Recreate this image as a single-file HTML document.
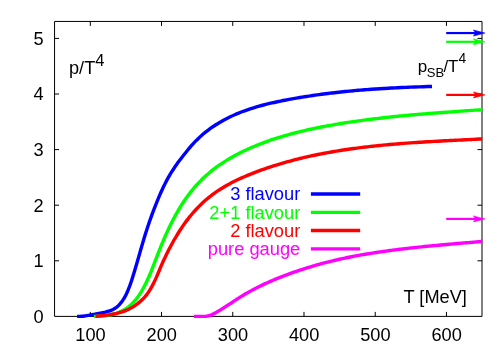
<!DOCTYPE html><html><head><meta charset="utf-8"><style>html,body{margin:0;padding:0;background:#fff}svg{display:block;will-change:transform;opacity:0.999}text{font-family:"Liberation Sans",sans-serif;font-size:18.2px}</style></head><body>
<svg width="504" height="353" viewBox="0 0 504 353">
<rect width="504" height="353" fill="#fff"/>
<g stroke="#000" stroke-width="1" fill="none" stroke-linejoin="round">
<rect x="54.55" y="21.45" width="427.45" height="294.95"/>
<path d="M90.30 316.40V311.90 M90.30 21.45V25.95"/>
<path d="M161.53 316.40V311.90 M161.53 21.45V25.95"/>
<path d="M232.76 316.40V311.90 M232.76 21.45V25.95"/>
<path d="M303.99 316.40V311.90 M303.99 21.45V25.95"/>
<path d="M375.22 316.40V311.90 M375.22 21.45V25.95"/>
<path d="M446.45 316.40V311.90 M446.45 21.45V25.95"/>
<path d="M54.55 260.80H59.05 M482.00 260.80H477.50"/>
<path d="M54.55 205.20H59.05 M482.00 205.20H477.50"/>
<path d="M54.55 149.60H59.05 M482.00 149.60H477.50"/>
<path d="M54.55 94.00H59.05 M482.00 94.00H477.50"/>
<path d="M54.55 38.40H59.05 M482.00 38.40H477.50"/>
</g>
<defs><clipPath id="cp"><rect x="0" y="0" width="482.3" height="353"/></clipPath></defs><g clip-path="url(#cp)">
<path d="M77.10 316.40C77.50 316.39 78.68 316.39 79.50 316.36C80.32 316.33 81.17 316.29 82.00 316.22C82.83 316.15 83.67 316.05 84.50 315.95C85.33 315.85 86.12 315.73 87.00 315.60C87.88 315.47 88.88 315.31 89.80 315.15C90.72 314.99 91.87 314.77 92.50 314.65C93.13 314.53 93.16 314.54 93.59 314.45C94.03 314.37 94.49 314.27 95.14 314.15C95.79 314.02 96.75 313.85 97.48 313.72C98.20 313.59 98.81 313.49 99.49 313.37C100.16 313.26 100.77 313.17 101.53 313.02C102.28 312.86 103.33 312.63 104.02 312.46C104.71 312.30 104.91 312.25 105.66 312.04C106.41 311.83 107.85 311.40 108.52 311.20C109.18 311.00 108.99 311.10 109.67 310.85C110.34 310.60 111.97 309.95 112.57 309.70C113.16 309.46 112.66 309.72 113.23 309.38C113.80 309.03 115.49 307.98 116.00 307.66C116.52 307.34 115.77 307.90 116.30 307.44C116.82 306.98 118.68 305.33 119.16 304.90C119.63 304.48 118.75 305.38 119.17 304.89C119.58 304.40 121.19 302.51 121.65 301.96C122.10 301.42 121.52 302.19 121.89 301.63C122.26 301.08 123.48 299.25 123.88 298.63C124.28 298.01 123.97 298.52 124.31 297.91C124.64 297.30 125.52 295.68 125.87 295.00C126.23 294.33 126.14 294.49 126.43 293.86C126.72 293.24 127.31 291.94 127.62 291.25C127.92 290.56 128.01 290.35 128.26 289.72C128.52 289.08 128.89 288.15 129.16 287.45C129.43 286.74 129.65 286.14 129.88 285.49C130.11 284.85 130.31 284.29 130.56 283.57C130.81 282.85 131.14 281.84 131.36 281.19C131.58 280.54 131.63 280.38 131.86 279.67C132.09 278.97 132.52 277.61 132.73 276.97C132.93 276.34 132.86 276.55 133.08 275.85C133.30 275.15 133.84 273.41 134.03 272.77C134.23 272.14 134.05 272.73 134.26 272.04C134.47 271.34 135.10 269.22 135.29 268.58C135.49 267.95 135.20 268.92 135.40 268.23C135.60 267.54 136.33 265.07 136.51 264.44C136.70 263.80 136.34 265.04 136.52 264.41C136.70 263.78 137.41 261.34 137.61 260.65C137.81 259.95 137.54 260.87 137.73 260.24C137.91 259.61 138.49 257.56 138.69 256.86C138.89 256.17 138.68 256.90 138.92 256.07C139.15 255.25 139.71 253.30 140.10 251.91C140.50 250.52 140.90 249.14 141.30 247.75C141.70 246.37 142.10 244.99 142.50 243.60C142.91 242.22 143.32 240.84 143.74 239.45C144.15 238.07 144.57 236.69 145.00 235.31C145.43 233.93 145.87 232.55 146.31 231.17C146.75 229.79 147.20 228.41 147.66 227.03C148.12 225.66 148.58 224.28 149.05 222.91C149.52 221.54 150.00 220.16 150.49 218.80C150.97 217.43 151.46 216.06 151.96 214.70C152.46 213.34 152.96 211.99 153.47 210.64C153.98 209.29 154.50 207.94 155.03 206.60C155.55 205.25 156.08 203.92 156.62 202.58C157.15 201.25 157.70 199.92 158.25 198.60C158.80 197.27 159.36 195.96 159.93 194.64C160.50 193.33 161.08 192.02 161.68 190.72C162.27 189.42 162.88 188.11 163.50 186.82C164.12 185.53 164.76 184.24 165.42 182.96C166.07 181.69 166.74 180.41 167.43 179.15C168.12 177.89 168.82 176.64 169.55 175.39C170.28 174.14 171.02 172.91 171.80 171.68C172.57 170.44 173.40 169.17 174.21 167.97C175.01 166.77 175.80 165.64 176.62 164.49C177.44 163.34 178.27 162.19 179.11 161.07C179.95 159.94 180.81 158.82 181.66 157.73C182.50 156.63 183.32 155.59 184.19 154.49C185.05 153.40 185.94 152.28 186.83 151.17C187.73 150.07 188.64 148.95 189.56 147.85C190.49 146.76 191.42 145.67 192.37 144.60C193.33 143.54 194.30 142.48 195.30 141.44C196.30 140.41 197.33 139.38 198.38 138.39C199.42 137.40 200.48 136.42 201.57 135.47C202.65 134.52 203.74 133.60 204.86 132.69C205.98 131.78 207.12 130.89 208.28 130.02C209.45 129.15 210.63 128.30 211.83 127.46C213.03 126.63 214.24 125.82 215.48 125.02C216.71 124.22 217.99 123.43 219.25 122.68C220.52 121.92 221.80 121.19 223.07 120.48C224.35 119.78 225.64 119.10 226.93 118.44C228.21 117.78 229.51 117.14 230.81 116.53C232.11 115.91 233.41 115.32 234.73 114.75C236.04 114.17 237.37 113.61 238.70 113.07C240.03 112.53 241.37 112.01 242.71 111.50C244.06 110.99 245.42 110.50 246.78 110.03C248.15 109.55 249.52 109.09 250.90 108.64C252.29 108.19 253.68 107.76 255.07 107.34C256.47 106.92 257.88 106.51 259.28 106.12C260.68 105.73 262.08 105.35 263.48 104.99C264.89 104.62 266.30 104.26 267.71 103.92C269.12 103.57 270.54 103.24 271.96 102.91C273.38 102.59 274.81 102.27 276.24 101.97C277.66 101.66 279.09 101.36 280.53 101.07C281.96 100.78 283.39 100.49 284.83 100.22C286.26 99.94 287.70 99.67 289.13 99.40C290.57 99.14 292.01 98.88 293.44 98.62C294.88 98.37 296.32 98.12 297.75 97.87C299.19 97.63 300.62 97.39 302.06 97.15C303.49 96.92 304.92 96.69 306.36 96.47C307.79 96.24 309.22 96.03 310.66 95.81C312.09 95.60 313.53 95.39 314.96 95.18C316.40 94.98 317.83 94.78 319.27 94.58C320.71 94.39 322.14 94.20 323.58 94.01C325.02 93.82 326.46 93.64 327.90 93.46C329.34 93.28 330.77 93.11 332.21 92.94C333.65 92.77 335.09 92.60 336.53 92.44C337.97 92.28 339.41 92.12 340.86 91.97C342.30 91.82 343.74 91.67 345.18 91.52C346.62 91.38 348.06 91.23 349.51 91.10C350.95 90.96 352.39 90.82 353.84 90.69C355.28 90.56 356.72 90.44 358.17 90.31C359.61 90.19 361.06 90.07 362.50 89.95C363.95 89.83 365.39 89.72 366.84 89.61C368.28 89.50 369.73 89.39 371.17 89.29C372.62 89.18 374.07 89.08 375.51 88.99C376.96 88.89 378.41 88.79 379.85 88.70C381.30 88.61 382.75 88.52 384.20 88.43C385.64 88.35 387.09 88.27 388.54 88.18C389.99 88.10 391.43 88.03 392.88 87.95C394.33 87.88 395.78 87.80 397.23 87.73C398.68 87.66 400.13 87.59 401.58 87.53C403.02 87.46 404.47 87.40 405.92 87.34C407.37 87.28 408.82 87.22 410.27 87.16C411.72 87.10 413.17 87.05 414.62 87.00C416.07 86.94 417.52 86.89 418.97 86.85C420.42 86.80 421.87 86.75 423.31 86.70C424.76 86.66 426.21 86.62 427.66 86.57C429.10 86.53 431.27 86.47 432.00 86.45" fill="none" stroke="#0000ff" stroke-width="3.4" stroke-linecap="butt" stroke-linejoin="round"/>
<path d="M93.90 316.35C94.61 316.33 96.84 316.28 98.17 316.22C99.49 316.16 100.60 316.10 101.83 316.00C103.05 315.90 104.29 315.77 105.52 315.61C106.75 315.45 107.98 315.26 109.19 315.03C110.41 314.80 111.61 314.55 112.79 314.25C113.97 313.95 115.14 313.62 116.28 313.25C117.42 312.88 118.54 312.48 119.62 312.03C120.71 311.58 121.77 311.09 122.80 310.56C123.84 310.02 124.84 309.44 125.81 308.81C126.78 308.19 127.72 307.51 128.63 306.79C129.54 306.07 130.42 305.31 131.27 304.51C132.12 303.71 132.95 302.86 133.74 301.99C134.54 301.12 135.31 300.21 136.05 299.28C136.80 298.34 137.52 297.38 138.22 296.39C138.91 295.41 139.59 294.39 140.24 293.37C140.90 292.34 141.53 291.29 142.14 290.24C142.75 289.19 143.35 288.12 143.92 287.05C144.49 285.98 145.04 284.90 145.58 283.83C146.12 282.75 146.64 281.67 147.15 280.58C147.66 279.49 148.15 278.40 148.63 277.31C149.12 276.22 149.58 275.12 150.05 274.02C150.51 272.92 150.96 271.81 151.41 270.71C151.86 269.60 152.30 268.49 152.73 267.38C153.17 266.26 153.60 265.15 154.03 264.03C154.46 262.92 154.88 261.80 155.31 260.68C155.74 259.56 156.17 258.44 156.60 257.32C157.03 256.20 157.47 255.08 157.91 253.96C158.34 252.84 158.78 251.72 159.23 250.60C159.67 249.48 160.12 248.36 160.57 247.24C161.03 246.13 161.48 245.01 161.95 243.89C162.41 242.78 162.87 241.66 163.35 240.55C163.82 239.44 164.30 238.33 164.78 237.22C165.26 236.12 165.75 235.01 166.25 233.91C166.74 232.81 167.24 231.71 167.75 230.61C168.26 229.52 168.77 228.42 169.30 227.34C169.82 226.25 170.34 225.18 170.87 224.11C171.40 223.04 171.94 221.98 172.48 220.92C173.03 219.86 173.58 218.81 174.14 217.76C174.70 216.71 175.27 215.67 175.85 214.63C176.42 213.60 177.01 212.57 177.60 211.54C178.19 210.52 178.79 209.50 179.41 208.49C180.02 207.47 180.65 206.46 181.28 205.45C181.92 204.44 182.56 203.44 183.22 202.45C183.87 201.45 184.54 200.47 185.22 199.49C185.89 198.51 186.58 197.54 187.28 196.58C187.97 195.62 188.68 194.67 189.40 193.73C190.12 192.78 190.85 191.85 191.59 190.93C192.33 190.00 193.08 189.09 193.85 188.18C194.61 187.28 195.39 186.39 196.18 185.50C196.96 184.62 197.76 183.75 198.58 182.89C199.39 182.02 200.23 181.17 201.07 180.32C201.92 179.47 202.79 178.63 203.68 177.80C204.56 176.97 205.45 176.15 206.36 175.34C207.26 174.54 208.18 173.74 209.12 172.96C210.05 172.18 210.99 171.40 211.95 170.64C212.90 169.88 213.87 169.13 214.85 168.40C215.83 167.66 216.82 166.94 217.81 166.22C218.81 165.51 219.82 164.81 220.83 164.12C221.85 163.43 222.88 162.75 223.91 162.09C224.93 161.43 225.96 160.79 226.99 160.15C228.02 159.52 229.05 158.91 230.10 158.30C231.14 157.69 232.18 157.10 233.23 156.51C234.28 155.93 235.34 155.36 236.40 154.79C237.46 154.23 238.53 153.68 239.60 153.13C240.67 152.59 241.74 152.06 242.82 151.54C243.90 151.01 244.98 150.50 246.07 149.99C247.16 149.48 248.26 148.98 249.36 148.49C250.45 148.00 251.56 147.52 252.66 147.05C253.76 146.58 254.87 146.12 255.98 145.66C257.08 145.21 258.20 144.76 259.31 144.32C260.42 143.89 261.52 143.46 262.63 143.04C263.74 142.62 264.84 142.21 265.95 141.81C267.07 141.41 268.18 141.01 269.30 140.62C270.41 140.23 271.53 139.85 272.65 139.48C273.78 139.10 274.90 138.74 276.03 138.37C277.15 138.01 278.28 137.66 279.41 137.31C280.55 136.96 281.69 136.62 282.83 136.28C283.98 135.94 285.12 135.61 286.27 135.28C287.42 134.95 288.57 134.63 289.72 134.32C290.88 134.00 292.03 133.69 293.19 133.39C294.35 133.09 295.51 132.79 296.67 132.50C297.83 132.20 298.99 131.91 300.16 131.63C301.32 131.35 302.48 131.07 303.64 130.80C304.80 130.53 305.97 130.26 307.14 130.00C308.30 129.73 309.47 129.48 310.64 129.22C311.81 128.97 312.99 128.71 314.16 128.47C315.33 128.22 316.51 127.98 317.68 127.74C318.86 127.50 320.04 127.27 321.23 127.04C322.41 126.80 323.60 126.57 324.79 126.35C325.98 126.13 327.17 125.91 328.36 125.69C329.55 125.47 330.74 125.26 331.93 125.05C333.13 124.84 334.32 124.63 335.51 124.43C336.71 124.23 337.90 124.03 339.10 123.83C340.29 123.63 341.48 123.44 342.68 123.25C343.87 123.06 345.06 122.88 346.26 122.69C347.45 122.51 348.64 122.33 349.84 122.15C351.03 121.97 352.23 121.80 353.42 121.63C354.61 121.45 355.81 121.28 357.00 121.12C358.20 120.95 359.39 120.78 360.58 120.62C361.78 120.46 362.98 120.30 364.17 120.14C365.37 119.98 366.56 119.83 367.76 119.68C368.95 119.52 370.15 119.37 371.34 119.22C372.53 119.07 373.73 118.93 374.92 118.78C376.12 118.64 377.31 118.49 378.51 118.35C379.70 118.21 380.89 118.07 382.08 117.94C383.28 117.80 384.47 117.67 385.66 117.54C386.85 117.40 388.04 117.27 389.24 117.14C390.43 117.02 391.62 116.89 392.81 116.76C394.00 116.64 395.19 116.52 396.39 116.40C397.58 116.28 398.77 116.16 399.96 116.04C401.15 115.92 402.35 115.81 403.54 115.69C404.73 115.58 405.93 115.47 407.12 115.36C408.31 115.25 409.50 115.14 410.70 115.03C411.89 114.93 413.08 114.82 414.28 114.72C415.47 114.61 416.66 114.51 417.86 114.41C419.05 114.31 420.25 114.21 421.44 114.12C422.63 114.02 423.83 113.92 425.02 113.83C426.21 113.74 427.41 113.64 428.60 113.55C429.80 113.46 430.99 113.37 432.19 113.28C433.38 113.19 434.58 113.11 435.77 113.02C436.97 112.93 438.16 112.84 439.36 112.76C440.55 112.67 441.75 112.58 442.95 112.49C444.15 112.41 445.35 112.32 446.55 112.23C447.75 112.14 448.94 112.05 450.14 111.96C451.34 111.87 452.54 111.78 453.74 111.69C454.94 111.60 456.14 111.51 457.35 111.41C458.55 111.32 459.75 111.23 460.95 111.14C462.15 111.04 463.35 110.95 464.56 110.86C465.76 110.77 466.96 110.69 468.16 110.60C469.36 110.52 470.56 110.43 471.77 110.36C472.97 110.28 474.17 110.21 475.38 110.14C476.58 110.07 477.78 110.01 478.99 109.95C480.19 109.90 482.00 109.83 482.60 109.80" fill="none" stroke="#00ff00" stroke-width="3.4" stroke-linecap="butt" stroke-linejoin="round"/>
<path d="M95.60 316.30C96.10 316.25 97.53 316.12 98.59 316.02C99.64 315.92 100.80 315.81 101.94 315.69C103.08 315.57 104.25 315.45 105.42 315.31C106.59 315.17 107.79 315.02 108.97 314.85C110.16 314.68 111.36 314.49 112.55 314.27C113.73 314.06 114.92 313.82 116.09 313.56C117.25 313.30 118.41 313.01 119.55 312.69C120.68 312.37 121.81 312.03 122.90 311.65C124.00 311.27 125.08 310.86 126.13 310.42C127.19 309.98 128.22 309.50 129.23 308.99C130.24 308.48 131.23 307.94 132.19 307.37C133.15 306.80 134.10 306.20 135.01 305.58C135.93 304.95 136.82 304.29 137.70 303.61C138.57 302.93 139.41 302.22 140.24 301.49C141.06 300.75 141.86 299.99 142.64 299.20C143.41 298.41 144.16 297.60 144.89 296.76C145.61 295.93 146.31 295.06 146.98 294.18C147.65 293.30 148.29 292.39 148.91 291.46C149.53 290.54 150.12 289.58 150.69 288.61C151.27 287.64 151.82 286.65 152.36 285.63C152.91 284.62 153.43 283.59 153.94 282.54C154.46 281.49 154.95 280.42 155.44 279.34C155.94 278.27 156.41 277.17 156.89 276.08C157.37 274.98 157.83 273.88 158.30 272.77C158.76 271.67 159.22 270.56 159.69 269.47C160.15 268.37 160.61 267.27 161.08 266.19C161.54 265.11 162.01 264.03 162.49 262.97C162.96 261.90 163.44 260.85 163.92 259.80C164.40 258.75 164.89 257.71 165.38 256.68C165.87 255.65 166.37 254.63 166.87 253.61C167.37 252.59 167.87 251.59 168.39 250.57C168.91 249.56 169.44 248.53 169.98 247.51C170.51 246.49 171.06 245.47 171.61 244.46C172.16 243.45 172.72 242.44 173.27 241.47C173.81 240.49 174.35 239.56 174.90 238.61C175.45 237.66 176.00 236.73 176.57 235.79C177.13 234.86 177.70 233.93 178.28 233.00C178.85 232.07 179.44 231.15 180.04 230.23C180.63 229.31 181.24 228.39 181.85 227.48C182.46 226.57 183.08 225.67 183.72 224.76C184.36 223.85 185.01 222.95 185.67 222.04C186.33 221.14 187.00 220.25 187.69 219.36C188.38 218.46 189.10 217.55 189.82 216.66C190.54 215.77 191.26 214.89 192.01 214.01C192.76 213.13 193.51 212.27 194.30 211.39C195.08 210.51 195.91 209.60 196.74 208.73C197.56 207.86 198.38 207.01 199.22 206.17C200.05 205.34 200.89 204.52 201.74 203.71C202.59 202.90 203.46 202.11 204.33 201.33C205.20 200.55 206.08 199.78 206.97 199.03C207.86 198.27 208.76 197.53 209.67 196.81C210.59 196.09 211.50 195.38 212.43 194.68C213.36 193.99 214.30 193.31 215.25 192.64C216.19 191.97 217.15 191.32 218.12 190.68C219.08 190.04 220.05 189.41 221.02 188.80C221.99 188.19 222.95 187.60 223.93 187.01C224.92 186.43 225.90 185.86 226.90 185.29C227.90 184.73 228.90 184.18 229.91 183.64C230.92 183.09 231.94 182.56 232.96 182.04C233.98 181.51 235.01 181.00 236.05 180.50C237.08 179.99 238.11 179.50 239.15 179.02C240.20 178.53 241.24 178.06 242.29 177.59C243.34 177.12 244.40 176.66 245.45 176.21C246.51 175.76 247.57 175.32 248.64 174.88C249.70 174.44 250.77 174.01 251.84 173.59C252.92 173.16 253.99 172.75 255.07 172.34C256.15 171.92 257.23 171.52 258.31 171.12C259.39 170.72 260.47 170.33 261.55 169.94C262.63 169.56 263.71 169.18 264.79 168.80C265.88 168.42 266.96 168.05 268.04 167.69C269.13 167.32 270.21 166.97 271.30 166.61C272.39 166.26 273.48 165.91 274.57 165.56C275.66 165.22 276.75 164.88 277.85 164.55C278.94 164.21 280.03 163.89 281.13 163.56C282.23 163.24 283.32 162.92 284.42 162.60C285.52 162.29 286.62 161.98 287.72 161.68C288.82 161.37 289.92 161.07 291.03 160.78C292.13 160.48 293.24 160.19 294.34 159.91C295.45 159.62 296.55 159.34 297.66 159.06C298.77 158.78 299.88 158.51 301.00 158.24C302.11 157.97 303.22 157.71 304.34 157.45C305.45 157.19 306.57 156.93 307.69 156.68C308.80 156.43 309.92 156.18 311.04 155.94C312.16 155.70 313.28 155.46 314.41 155.22C315.53 154.99 316.65 154.75 317.78 154.53C318.90 154.30 320.03 154.08 321.15 153.86C322.28 153.64 323.41 153.42 324.54 153.21C325.67 153.00 326.80 152.79 327.93 152.58C329.06 152.38 330.19 152.17 331.33 151.98C332.46 151.78 333.60 151.58 334.73 151.39C335.87 151.20 337.01 151.01 338.15 150.83C339.28 150.65 340.42 150.47 341.56 150.29C342.70 150.11 343.84 149.94 344.98 149.77C346.12 149.60 347.26 149.43 348.40 149.26C349.55 149.10 350.69 148.94 351.83 148.78C352.97 148.62 354.12 148.47 355.26 148.31C356.41 148.16 357.55 148.01 358.69 147.87C359.84 147.72 360.98 147.58 362.13 147.43C363.27 147.29 364.41 147.16 365.56 147.02C366.70 146.89 367.85 146.75 368.99 146.62C370.14 146.49 371.28 146.37 372.43 146.24C373.57 146.12 374.71 145.99 375.86 145.87C377.00 145.75 378.15 145.64 379.29 145.52C380.44 145.41 381.58 145.29 382.73 145.18C383.87 145.07 385.02 144.96 386.17 144.86C387.31 144.75 388.46 144.65 389.60 144.55C390.75 144.44 391.90 144.34 393.04 144.24C394.19 144.15 395.34 144.05 396.49 143.96C397.63 143.86 398.78 143.77 399.93 143.68C401.08 143.59 402.23 143.50 403.38 143.41C404.52 143.32 405.67 143.24 406.82 143.15C407.97 143.07 409.12 142.99 410.27 142.90C411.41 142.82 412.56 142.74 413.71 142.66C414.86 142.59 416.01 142.51 417.16 142.43C418.31 142.36 419.46 142.28 420.61 142.21C421.76 142.14 422.91 142.07 424.06 141.99C425.20 141.92 426.35 141.85 427.50 141.79C428.65 141.72 429.80 141.65 430.95 141.58C432.10 141.52 433.25 141.45 434.40 141.38C435.55 141.32 436.70 141.26 437.84 141.19C438.99 141.13 440.14 141.07 441.29 141.00C442.44 140.94 443.59 140.88 444.74 140.82C445.89 140.76 447.03 140.70 448.18 140.64C449.33 140.58 450.48 140.52 451.63 140.46C452.78 140.40 453.92 140.34 455.07 140.29C456.22 140.23 457.37 140.17 458.52 140.11C459.66 140.05 460.81 140.00 461.96 139.94C463.11 139.88 464.26 139.82 465.40 139.77C466.55 139.71 467.70 139.65 468.84 139.59C469.99 139.54 471.14 139.48 472.29 139.42C473.43 139.36 474.58 139.31 475.72 139.25C476.87 139.19 478.02 139.13 479.16 139.07C480.31 139.01 482.03 138.92 482.60 138.89" fill="none" stroke="#ff0000" stroke-width="3.4" stroke-linecap="butt" stroke-linejoin="round"/>
<path d="M194.00 316.39C194.28 316.39 195.24 316.40 195.73 316.40C196.21 316.40 196.62 316.40 196.90 316.40C197.18 316.40 197.06 316.40 197.43 316.40C197.79 316.40 198.72 316.40 199.10 316.40C199.48 316.40 199.45 316.40 199.72 316.40C199.99 316.40 200.30 316.40 200.74 316.40C201.18 316.40 202.07 316.40 202.36 316.40C202.64 316.40 202.19 316.40 202.46 316.40C202.72 316.40 203.50 316.41 203.95 316.40C204.39 316.39 204.87 316.38 205.13 316.36C205.39 316.35 205.19 316.36 205.51 316.32C205.83 316.28 206.68 316.17 207.05 316.12C207.42 316.06 207.47 316.05 207.73 316.00C207.98 315.95 208.18 315.92 208.58 315.83C208.97 315.73 209.80 315.52 210.08 315.44C210.36 315.36 210.02 315.47 210.27 315.36C210.52 315.26 211.15 315.00 211.56 314.82C211.98 314.63 212.52 314.37 212.76 314.25C213.01 314.14 212.74 314.27 213.03 314.12C213.32 313.97 214.12 313.56 214.48 313.37C214.85 313.17 214.97 313.10 215.21 312.97C215.45 312.84 215.57 312.78 215.92 312.58C216.28 312.38 217.06 311.92 217.35 311.76C217.63 311.59 217.39 311.74 217.62 311.59C217.86 311.45 218.37 311.15 218.76 310.91C219.16 310.67 219.77 310.29 220.01 310.15C220.24 310.00 219.91 310.21 220.17 310.04C220.43 309.88 221.20 309.40 221.57 309.17C221.93 308.94 222.13 308.82 222.36 308.68C222.60 308.53 222.63 308.52 222.96 308.30C223.29 308.09 224.06 307.59 224.35 307.40C224.64 307.22 224.48 307.32 224.71 307.17C224.94 307.02 225.34 306.76 225.73 306.51C226.12 306.26 226.81 305.82 227.04 305.67C227.27 305.52 226.87 305.78 227.11 305.62C227.35 305.47 228.11 304.98 228.48 304.74C228.86 304.50 229.13 304.33 229.36 304.18C229.58 304.04 229.47 304.11 229.86 303.86C230.24 303.62 230.98 303.16 231.67 302.71C232.36 302.26 233.21 301.67 233.99 301.16C234.76 300.64 235.53 300.12 236.30 299.60C237.08 299.09 237.85 298.57 238.63 298.07C239.40 297.56 240.18 297.07 240.96 296.59C241.74 296.11 242.52 295.65 243.31 295.19C244.09 294.73 244.88 294.27 245.67 293.81C246.47 293.36 247.26 292.91 248.06 292.46C248.86 292.01 249.67 291.57 250.47 291.13C251.28 290.69 252.09 290.26 252.90 289.83C253.71 289.40 254.53 288.97 255.35 288.55C256.17 288.13 256.99 287.71 257.82 287.30C258.64 286.88 259.47 286.47 260.30 286.06C261.14 285.66 261.97 285.25 262.81 284.86C263.64 284.46 264.48 284.06 265.33 283.67C266.17 283.28 267.01 282.89 267.86 282.51C268.71 282.13 269.56 281.75 270.41 281.38C271.26 281.01 272.12 280.64 272.97 280.27C273.83 279.90 274.69 279.54 275.55 279.18C276.41 278.83 277.28 278.47 278.14 278.12C279.01 277.77 279.87 277.42 280.74 277.08C281.61 276.74 282.48 276.40 283.36 276.06C284.23 275.72 285.10 275.39 285.98 275.06C286.85 274.74 287.73 274.41 288.61 274.09C289.49 273.77 290.37 273.45 291.25 273.13C292.13 272.82 293.01 272.51 293.90 272.20C294.78 271.89 295.67 271.59 296.55 271.29C297.44 270.99 298.33 270.69 299.21 270.40C300.10 270.11 300.99 269.82 301.88 269.53C302.77 269.24 303.66 268.96 304.55 268.68C305.44 268.40 306.33 268.12 307.23 267.85C308.12 267.57 309.01 267.30 309.90 267.02C310.80 266.75 311.69 266.49 312.58 266.22C313.48 265.96 314.37 265.70 315.27 265.44C316.16 265.18 317.06 264.93 317.96 264.68C318.85 264.43 319.75 264.18 320.64 263.93C321.54 263.69 322.44 263.45 323.34 263.21C324.23 262.97 325.13 262.73 326.03 262.50C326.93 262.27 327.83 262.04 328.73 261.81C329.63 261.58 330.53 261.36 331.43 261.14C332.33 260.92 333.23 260.70 334.13 260.48C335.03 260.27 335.93 260.06 336.83 259.85C337.74 259.64 338.64 259.43 339.54 259.22C340.44 259.02 341.35 258.83 342.25 258.63C343.16 258.44 344.06 258.25 344.96 258.06C345.87 257.87 346.77 257.69 347.68 257.50C348.58 257.32 349.49 257.14 350.39 256.96C351.30 256.78 352.21 256.60 353.11 256.43C354.02 256.26 354.93 256.09 355.83 255.92C356.74 255.75 357.65 255.58 358.56 255.42C359.46 255.25 360.37 255.09 361.28 254.93C362.19 254.77 363.10 254.62 364.01 254.46C364.92 254.31 365.83 254.15 366.74 254.00C367.65 253.85 368.56 253.70 369.47 253.56C370.38 253.41 371.29 253.26 372.20 253.12C373.11 252.98 374.03 252.84 374.94 252.70C375.85 252.56 376.76 252.42 377.67 252.29C378.59 252.15 379.50 252.02 380.41 251.89C381.33 251.76 382.24 251.62 383.15 251.49C384.07 251.36 384.98 251.23 385.89 251.10C386.81 250.97 387.72 250.85 388.64 250.72C389.55 250.60 390.47 250.47 391.38 250.35C392.30 250.23 393.21 250.11 394.13 249.99C395.05 249.87 395.96 249.76 396.88 249.64C397.80 249.53 398.71 249.41 399.63 249.30C400.55 249.19 401.46 249.08 402.38 248.97C403.30 248.86 404.22 248.75 405.13 248.64C406.05 248.54 406.97 248.43 407.89 248.33C408.81 248.22 409.72 248.12 410.64 248.02C411.56 247.92 412.48 247.82 413.40 247.72C414.32 247.62 415.24 247.52 416.16 247.42C417.08 247.32 418.00 247.22 418.92 247.13C419.84 247.03 420.76 246.93 421.68 246.84C422.60 246.74 423.52 246.65 424.44 246.56C425.36 246.46 426.28 246.37 427.20 246.28C428.12 246.19 429.04 246.10 429.96 246.01C430.88 245.92 431.81 245.83 432.73 245.75C433.65 245.66 434.57 245.57 435.49 245.48C436.41 245.40 437.34 245.31 438.26 245.23C439.18 245.14 440.10 245.06 441.03 244.98C441.95 244.89 442.87 244.81 443.79 244.73C444.72 244.64 445.64 244.56 446.56 244.48C447.49 244.40 448.41 244.32 449.33 244.24C450.25 244.16 451.18 244.08 452.10 243.99C453.02 243.91 453.95 243.83 454.87 243.75C455.80 243.67 456.72 243.59 457.64 243.52C458.57 243.44 459.49 243.36 460.41 243.28C461.34 243.20 462.26 243.12 463.19 243.04C464.11 242.96 465.04 242.89 465.96 242.81C466.88 242.73 467.81 242.65 468.73 242.57C469.66 242.49 470.58 242.42 471.51 242.34C472.43 242.26 473.36 242.18 474.28 242.10C475.20 242.03 476.13 241.95 477.05 241.87C477.98 241.79 478.90 241.71 479.83 241.63C480.75 241.56 482.14 241.44 482.60 241.40" fill="none" stroke="#ff00ff" stroke-width="3.4" stroke-linecap="butt" stroke-linejoin="round"/>
</g>
<line x1="310.9" x2="360.2" y1="194.0" y2="194.0" stroke="#0000ff" stroke-width="3.3"/>
<text x="300.3" y="200.2" text-anchor="end" fill="#0000ff" style="font-size:18.3px">3 flavour</text>
<line x1="310.9" x2="360.2" y1="212.3" y2="212.3" stroke="#00ff00" stroke-width="3.3"/>
<text x="300.3" y="218.6" text-anchor="end" fill="#00ff00" style="font-size:18.3px">2+1 flavour</text>
<line x1="310.9" x2="360.2" y1="230.5" y2="230.5" stroke="#ff0000" stroke-width="3.3"/>
<text x="300.3" y="236.8" text-anchor="end" fill="#ff0000" style="font-size:18.3px">2 flavour</text>
<line x1="310.9" x2="360.2" y1="248.8" y2="248.8" stroke="#ff00ff" stroke-width="3.3"/>
<text x="300.3" y="255.1" text-anchor="end" fill="#ff00ff" style="font-size:18.3px">pure gauge</text>
<text x="90.50" y="341" text-anchor="middle">100</text>
<text x="161.73" y="341" text-anchor="middle">200</text>
<text x="232.96" y="341" text-anchor="middle">300</text>
<text x="304.19" y="341" text-anchor="middle">400</text>
<text x="375.42" y="341" text-anchor="middle">500</text>
<text x="446.65" y="341" text-anchor="middle">600</text>
<text x="43.6" y="322.80" text-anchor="end">0</text>
<text x="43.6" y="267.20" text-anchor="end">1</text>
<text x="43.6" y="211.60" text-anchor="end">2</text>
<text x="43.6" y="156.00" text-anchor="end">3</text>
<text x="43.6" y="100.40" text-anchor="end">4</text>
<text x="43.6" y="44.80" text-anchor="end">5</text>
<line x1="446.2" x2="476.7" y1="33.05" y2="33.05" stroke="#0000ff" stroke-width="2.2"/><path d="M484.90 33.05L473.40 30.05L475.70 33.05L473.40 36.05Z" fill="#0000ff" stroke="#0000ff" stroke-width="0.6" stroke-linejoin="miter"/>
<line x1="446.2" x2="476.7" y1="41.80" y2="41.80" stroke="#00ff00" stroke-width="2.2"/><path d="M484.90 41.80L473.40 38.80L475.70 41.80L473.40 44.80Z" fill="#00ff00" stroke="#00ff00" stroke-width="0.6" stroke-linejoin="miter"/>
<line x1="446.2" x2="476.7" y1="94.90" y2="94.90" stroke="#ff0000" stroke-width="2.2"/><path d="M484.90 94.90L473.40 91.90L475.70 94.90L473.40 97.90Z" fill="#ff0000" stroke="#ff0000" stroke-width="0.6" stroke-linejoin="miter"/>
<line x1="446.2" x2="476.7" y1="218.90" y2="218.90" stroke="#ff00ff" stroke-width="2.2"/><path d="M484.90 218.90L473.40 215.90L475.70 218.90L473.40 221.90Z" fill="#ff00ff" stroke="#ff00ff" stroke-width="0.6" stroke-linejoin="miter"/>
<text x="69" y="73.8">p/T<tspan dy="-8.3" font-size="16.5px">4</tspan></text>
<text y="71.4" style="font-size:16px"><tspan x="417.8" y="71.7" style="font-size:17px">p</tspan><tspan x="426.8" y="76.9" style="font-size:13px">SB</tspan><tspan x="443.4" y="71.7" style="font-size:16.8px">/T</tspan><tspan x="458.6" y="62.8" style="font-size:13.8px">4</tspan></text>
<text x="403.5" y="302.7">T [MeV]</text>
</svg></body></html>
